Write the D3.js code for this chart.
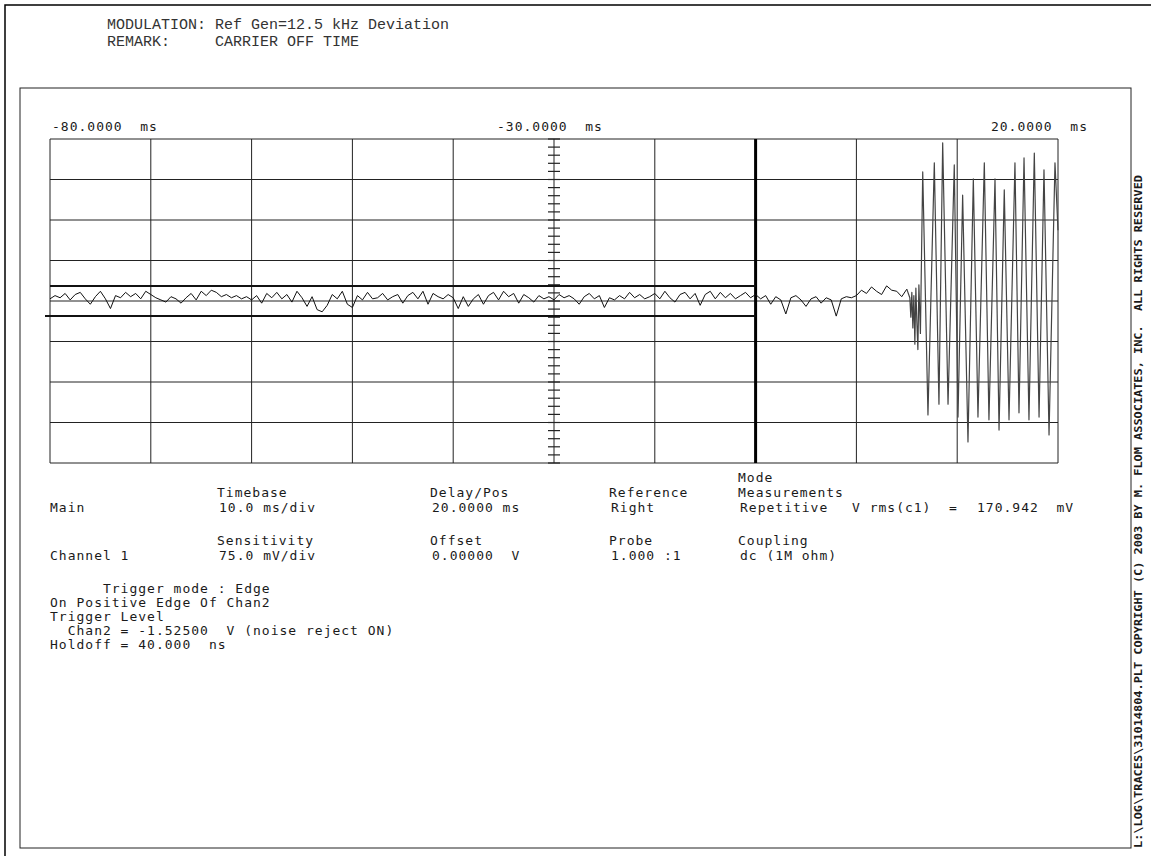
<!DOCTYPE html>
<html>
<head>
<meta charset="utf-8">
<script src="https://cdn.jsdelivr.net/npm/d3@7"></script>
<style>
  body { margin: 0; background: #fff; }
  text { white-space: pre; }
</style>
</head>
<body>
<script>
/* ===== data ===== */
// header lines
var headerKeys = ["MODULATION:", "REMARK:"];
var headerVals = ["Ref Gen=12.5 kHz Deviation", "CARRIER OFF TIME"];

// time axis, ms (10 ms/div, reference right at 20 ms)
var timeDomain = [-80, 20];
var timeLabels = ["-80.0000  ms", "-30.0000  ms", "20.0000  ms"];
// voltage, mV (75 mV/div, offset 0)
var voltDomain = [-300, 300];

// noise before the carrier comes on: one sample every 0.5 ms from -80 ms, mV
var noiseStart = -80;
var noiseStep = 0.5;
var noiseMv = [
  4, 10, 6, 14, 2, 12, 16, 4, -6, 8, 18, 4, -14, 10, 6, 16, 8, 14, 4, 18,
  12, 6, 2, -2, 8, 4, -4, 6, 14, 2, 18, 10, 20, 16, 8, 12, 6, 10, 4, 8,
  2, 10, -4, 14, 6, 16, 4, 12, -2, 18, 6, -10, 8, -16, -20, -8, 12, 4, 18, -6,
  -12, 10, 2, 16, 4, 6, 14, 2, 8, 12, -4, 10, 16, 4, 18, -6, 14, 8, 4, 12,
  6, -14, 8, -10, 4, 12, -6, 10, 16, 2, 18, 8, 14, -4, 12, 6, -2, 10, 4, 8,
  2, 12, 6, 10, 4, -6, 8, 14, 4, 10, -12, 6, 2, 10, 4, 16, 6, 12, 4, 8,
  14, 4, 18, 6, -2, 12, 16, 4, 14, -8, 12, 18, 4, 16, 6, 14, 4, 10, 16, 6,
  12, 4, 10, -6, 8, 2, -24, 6, 10, 2, -10, 4, 8, -4, 6, 2, -28, 4, 8, 6,
  10, 20, 14, 26, 18, 12, 28, 20, 18, 8, 22
];

// carrier burst, peaks and troughs (ms, mV)
var burstT = [5.0, 5.3, 5.4, 5.5, 5.6, 5.7, 5.8, 5.9, 6.0, 6.1, 6.2, 6.35,
  6.58, 7.10, 7.73, 8.19, 8.56, 9.09, 9.71, 10.08, 10.54, 11.07, 11.60, 12.06,
  12.69, 13.15, 13.75, 14.15, 14.67, 15.14, 15.73, 16.13, 16.63, 17.12, 17.65,
  18.12, 18.61, 19.11, 19.70, 20.0];
var burstMv = [22, 6, -30, 16, -50, 10, -80, 24, -40, -90, 30, -60,
  239, -211, 256, -191, 293, -191, 252, -215, 196, -261, 226, -215,
  256, -220, 226, -239, 206, -220, 256, -207, 265, -220, 274,
  -215, 243, -248, 256, 131];

// marker settings
var markerTime = -10;
var markerVolts = [28, -28];

// settings block under the screen
var rowNames = ["Main", "Channel 1"];
var mainHeads = ["Timebase", "Delay/Pos", "Reference", "Measurements"];
var mainVals = ["10.0 ms/div", "20.0000 ms", "Right", "Repetitive"];
var chanHeads = ["Sensitivity", "Offset", "Probe", "Coupling"];
var chanVals = ["75.0 mV/div", "0.00000  V", "1.000 :1", "dc (1M ohm)"];
var modeLabel = "Mode";
var rmsLabel = "V rms(c1)  =";
var rmsValue = "170.942  mV";
var triggerLines = ["      Trigger mode : Edge", "On Positive Edge Of Chan2", "Trigger Level",
  "  Chan2 = -1.52500  V (noise reject ON)", "Holdoff = 40.000  ns"];
var sideNote = "L:\\LOG\\TRACES\\31014804.PLT COPYRIGHT (C) 2003 BY M. FLOM ASSOCIATES, INC.  ALL RIGHTS RESERVED";

/* ===== constants ===== */
var w = 1151;
var h = 856;
var plotLeft = 50, plotRight = 1058, plotTop = 139, plotBottom = 463;
var hpFont = "'DejaVu Sans Mono', monospace";
var hpSize = "13px";
var ink = "#1a1a1a";
var burstColor = "#444";

var svg = d3.select("body")
    .append("svg")
    .attr("width", w)
    .attr("height", h);

/* ===== page frames ===== */
svg.append("path")
    .attr("d", "M5,856 L5,5 L1151,5")
    .attr("fill", "none").attr("stroke", "#000").attr("stroke-width", 1.5);
svg.append("rect")
    .attr("x", 20).attr("y", 88).attr("width", 1111).attr("height", 760)
    .attr("fill", "none").attr("stroke", "#222").attr("stroke-width", 1);

/* ===== header ===== */
headerKeys.forEach(function (k, i) {
    svg.append("text")
        .attr("x", 107).attr("y", 29 + i * 17)
        .attr("font-family", "'Liberation Mono', monospace")
        .attr("font-size", "15px")
        .attr("fill", "#333")
        .text(k);
    svg.append("text")
        .attr("x", 215).attr("y", 29 + i * 17)
        .attr("font-family", "'Liberation Mono', monospace")
        .attr("font-size", "15px")
        .attr("fill", "#333")
        .text(headerVals[i]);
});

/* ===== scales ===== */
var xScale = d3.scaleLinear().domain(timeDomain).range([plotLeft, plotRight]);
var yScale = d3.scaleLinear().domain(voltDomain).range([plotBottom, plotTop]);

/* ===== grid ===== */
var grid = svg.append("g");
grid.selectAll("line.v")
    .data(d3.range(timeDomain[0], timeDomain[1] + 1, 10))
    .enter().append("line")
    .attr("x1", function (d) { return xScale(d); })
    .attr("x2", function (d) { return xScale(d); })
    .attr("y1", plotTop).attr("y2", plotBottom)
    .attr("stroke", "#222").attr("stroke-width", 1);
grid.selectAll("line.h")
    .data(d3.range(voltDomain[0], voltDomain[1] + 1, 75))
    .enter().append("line")
    .attr("x1", plotLeft).attr("x2", plotRight)
    .attr("y1", function (d) { return yScale(d); })
    .attr("y2", function (d) { return yScale(d); })
    .attr("stroke", "#222").attr("stroke-width", 1);

// minor ticks on the centre time line
var centreT = (timeDomain[0] + timeDomain[1]) / 2;
grid.selectAll("line.tick")
    .data(d3.range(voltDomain[0], voltDomain[1] + 1, 15))
    .enter().append("line")
    .attr("x1", xScale(centreT) - 6).attr("x2", xScale(centreT) + 6)
    .attr("y1", function (d) { return yScale(d); })
    .attr("y2", function (d) { return yScale(d); })
    .attr("stroke", "#222").attr("stroke-width", 1.2);

/* ===== time labels ===== */
var labelTimes = [timeDomain[0], centreT, timeDomain[1]];
labelTimes.forEach(function (t, i) {
    svg.append("text")
        .attr("x", i == 0 ? xScale(t) + 2 : (i == 1 ? xScale(t) - 57 : xScale(t) + 30))
        .attr("y", plotTop - 8)
        .attr("text-anchor", i == 2 ? "end" : "start")
        .attr("font-family", hpFont).attr("font-size", hpSize)
        .attr("letter-spacing", "1px")
        .attr("fill", ink)
        .text(timeLabels[i]);
});

/* ===== markers ===== */
svg.append("line")
    .attr("x1", xScale(markerTime)).attr("x2", xScale(markerTime))
    .attr("y1", plotTop).attr("y2", plotBottom)
    .attr("stroke", "#000").attr("stroke-width", 3);
markerVolts.forEach(function (v, i) {
    svg.append("line")
        .attr("x1", i == 0 ? plotLeft : plotLeft - 5)
        .attr("x2", xScale(markerTime))
        .attr("y1", yScale(v)).attr("y2", yScale(v))
        .attr("stroke", "#111").attr("stroke-width", 2);
});

/* ===== trace ===== */
var noise = noiseMv.map(function (v, i) {
    return { t: noiseStart + i * noiseStep, v: v };
});
var burst = burstT.map(function (t, i) {
    return { t: t, v: burstMv[i] };
});
var line = d3.line()
    .x(function (d) { return xScale(d.t); })
    .y(function (d) { return yScale(d.v); });
svg.append("path")
    .datum(noise)
    .attr("fill", "none")
    .attr("stroke", "#111")
    .attr("stroke-width", 1)
    .attr("stroke-linejoin", "round")
    .attr("d", line);
svg.append("path")
    .datum(burst)
    .attr("fill", "none")
    .attr("stroke", burstColor)
    .attr("stroke-width", 1.2)
    .attr("stroke-linejoin", "round")
    .attr("d", line);

/* ===== settings block ===== */
function hpText(x, y, s) {
    return svg.append("text")
        .attr("x", x).attr("y", y)
        .attr("font-family", hpFont).attr("font-size", hpSize)
        .attr("letter-spacing", "1px")
        .attr("fill", ink)
        .text(s);
}
var colX = [217, 430, 609, 738];
hpText(50, 512, rowNames[0]);
hpText(50, 560, rowNames[1]);
mainHeads.forEach(function (s, i) {
    hpText(colX[i], 497, s);
    hpText(colX[i] + 2, 512, mainVals[i]);
    hpText(colX[i], 545, chanHeads[i]);
    hpText(colX[i] + 2, 560, chanVals[i]);
});
// these two sit on top of each other in the original plot; nudged apart here
hpText(738, 482, modeLabel);
hpText(852, 512, rmsLabel);
hpText(977, 512, rmsValue);
triggerLines.forEach(function (s, i) {
    hpText(50, 593 + i * 14, s);
});

/* ===== side note ===== */
svg.append("text")
    .attr("transform", "translate(1142,848) rotate(-90)")
    .attr("font-family", "'DejaVu Sans Mono', monospace")
    .attr("font-size", "10px")
    .attr("font-weight", "bold")
    .attr("textLength", 673)
    .attr("lengthAdjust", "spacingAndGlyphs")
    .attr("fill", ink)
    .text(sideNote);
</script>
</body>
</html>
